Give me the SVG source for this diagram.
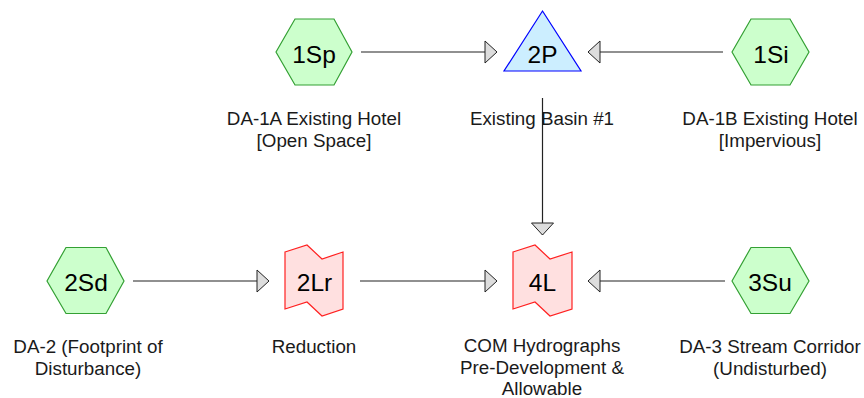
<svg xmlns="http://www.w3.org/2000/svg" width="864" height="398" viewBox="0 0 864 398">
<style>
  .hex { fill: #ccffcc; stroke: #33a033; stroke-width: 1.2; }
  .pond { fill: #cceeff; stroke: #0000ff; stroke-width: 1.2; }
  .reach { fill: #ffe0e0; stroke: #ff2020; stroke-width: 1.2; }
  .id { font-family: "Liberation Sans", Arial, sans-serif; font-size: 24.5px; fill: #000; text-anchor: middle; }
  .lbl { font-family: "Liberation Sans", Arial, sans-serif; font-size: 18.8px; fill: #1a1a1a; text-anchor: middle; }
  .conn { stroke: #222; stroke-width: 1.2; fill: none; marker-end: url(#arr); }
</style>
<defs>
  <marker id="arr" markerUnits="userSpaceOnUse" viewBox="-1 -1 14 24" refX="12" refY="11" markerWidth="14" markerHeight="24" orient="auto">
    <path d="M0,0 L12,11 L0,22 Z" fill="#dddddd" stroke="#222" stroke-width="1"/>
  </marker>
</defs>
<rect width="864" height="398" fill="#ffffff"/>
<g id="connectors">
  <line class="conn" x1="361" y1="52" x2="497" y2="52"/>
  <line class="conn" x1="723" y1="52" x2="588" y2="52"/>
  <line class="conn" x1="542.5" y1="98" x2="542.5" y2="235"/>
  <line class="conn" x1="133" y1="281" x2="269" y2="281"/>
  <line class="conn" x1="360" y1="281" x2="497" y2="281"/>
  <line class="conn" x1="725" y1="281" x2="588" y2="281"/>
</g>
<g id="n1Sp">
  <polygon class="hex" points="276,52 295,19 334,19 352,52 334,85 295,85"/>
  <text class="id" x="314" y="62.5">1Sp</text>
  <text class="lbl" x="314" y="124.5">DA-1A Existing Hotel</text>
  <text class="lbl" x="314" y="146.5">[Open Space]</text>
</g>
<g id="n2P">
  <polygon class="pond" points="542.5,11 581,71 504,71"/>
  <text class="id" x="542.5" y="63">2P</text>
  <text class="lbl" x="542" y="124.5">Existing Basin #1</text>
</g>
<g id="n1Si">
  <polygon class="hex" points="732,52 751,19 790,19 809,52 790,85 751,85"/>
  <text class="id" x="771" y="62.5">1Si</text>
  <text class="lbl" x="770" y="124.5">DA-1B Existing Hotel</text>
  <text class="lbl" x="770" y="146.5">[Impervious]</text>
</g>
<g id="n2Sd">
  <polygon class="hex" points="47,281 66,247.5 106,247.5 124,281 106,313.5 66,313.5"/>
  <text class="id" x="86" y="290.5">2Sd</text>
  <text class="lbl" x="88" y="352.5">DA-2 (Footprint of</text>
  <text class="lbl" x="88" y="374.5">Disturbance)</text>
</g>
<g id="n2Lr">
  <polygon class="reach" points="285,252 307,245 322,259 343,252 343,309 322,316 307,302 285,309"/>
  <text class="id" x="314.5" y="291">2Lr</text>
  <text class="lbl" x="314" y="352.5">Reduction</text>
</g>
<g id="n4L">
  <polygon class="reach" points="513,252 535,245 550,259 572,252 572,309 550,316 535,302 513,309"/>
  <text class="id" x="542.5" y="291">4L</text>
  <text class="lbl" x="542" y="352">COM Hydrographs</text>
  <text class="lbl" x="542" y="373.5">Pre-Development &amp;</text>
  <text class="lbl" x="542" y="394.5">Allowable</text>
</g>
<g id="n3Su">
  <polygon class="hex" points="732,281 751,247.5 790,247.5 809,281 790,313.5 751,313.5"/>
  <text class="id" x="770" y="291">3Su</text>
  <text class="lbl" x="770" y="352.5">DA-3 Stream Corridor</text>
  <text class="lbl" x="770" y="374.5">(Undisturbed)</text>
</g>
</svg>
